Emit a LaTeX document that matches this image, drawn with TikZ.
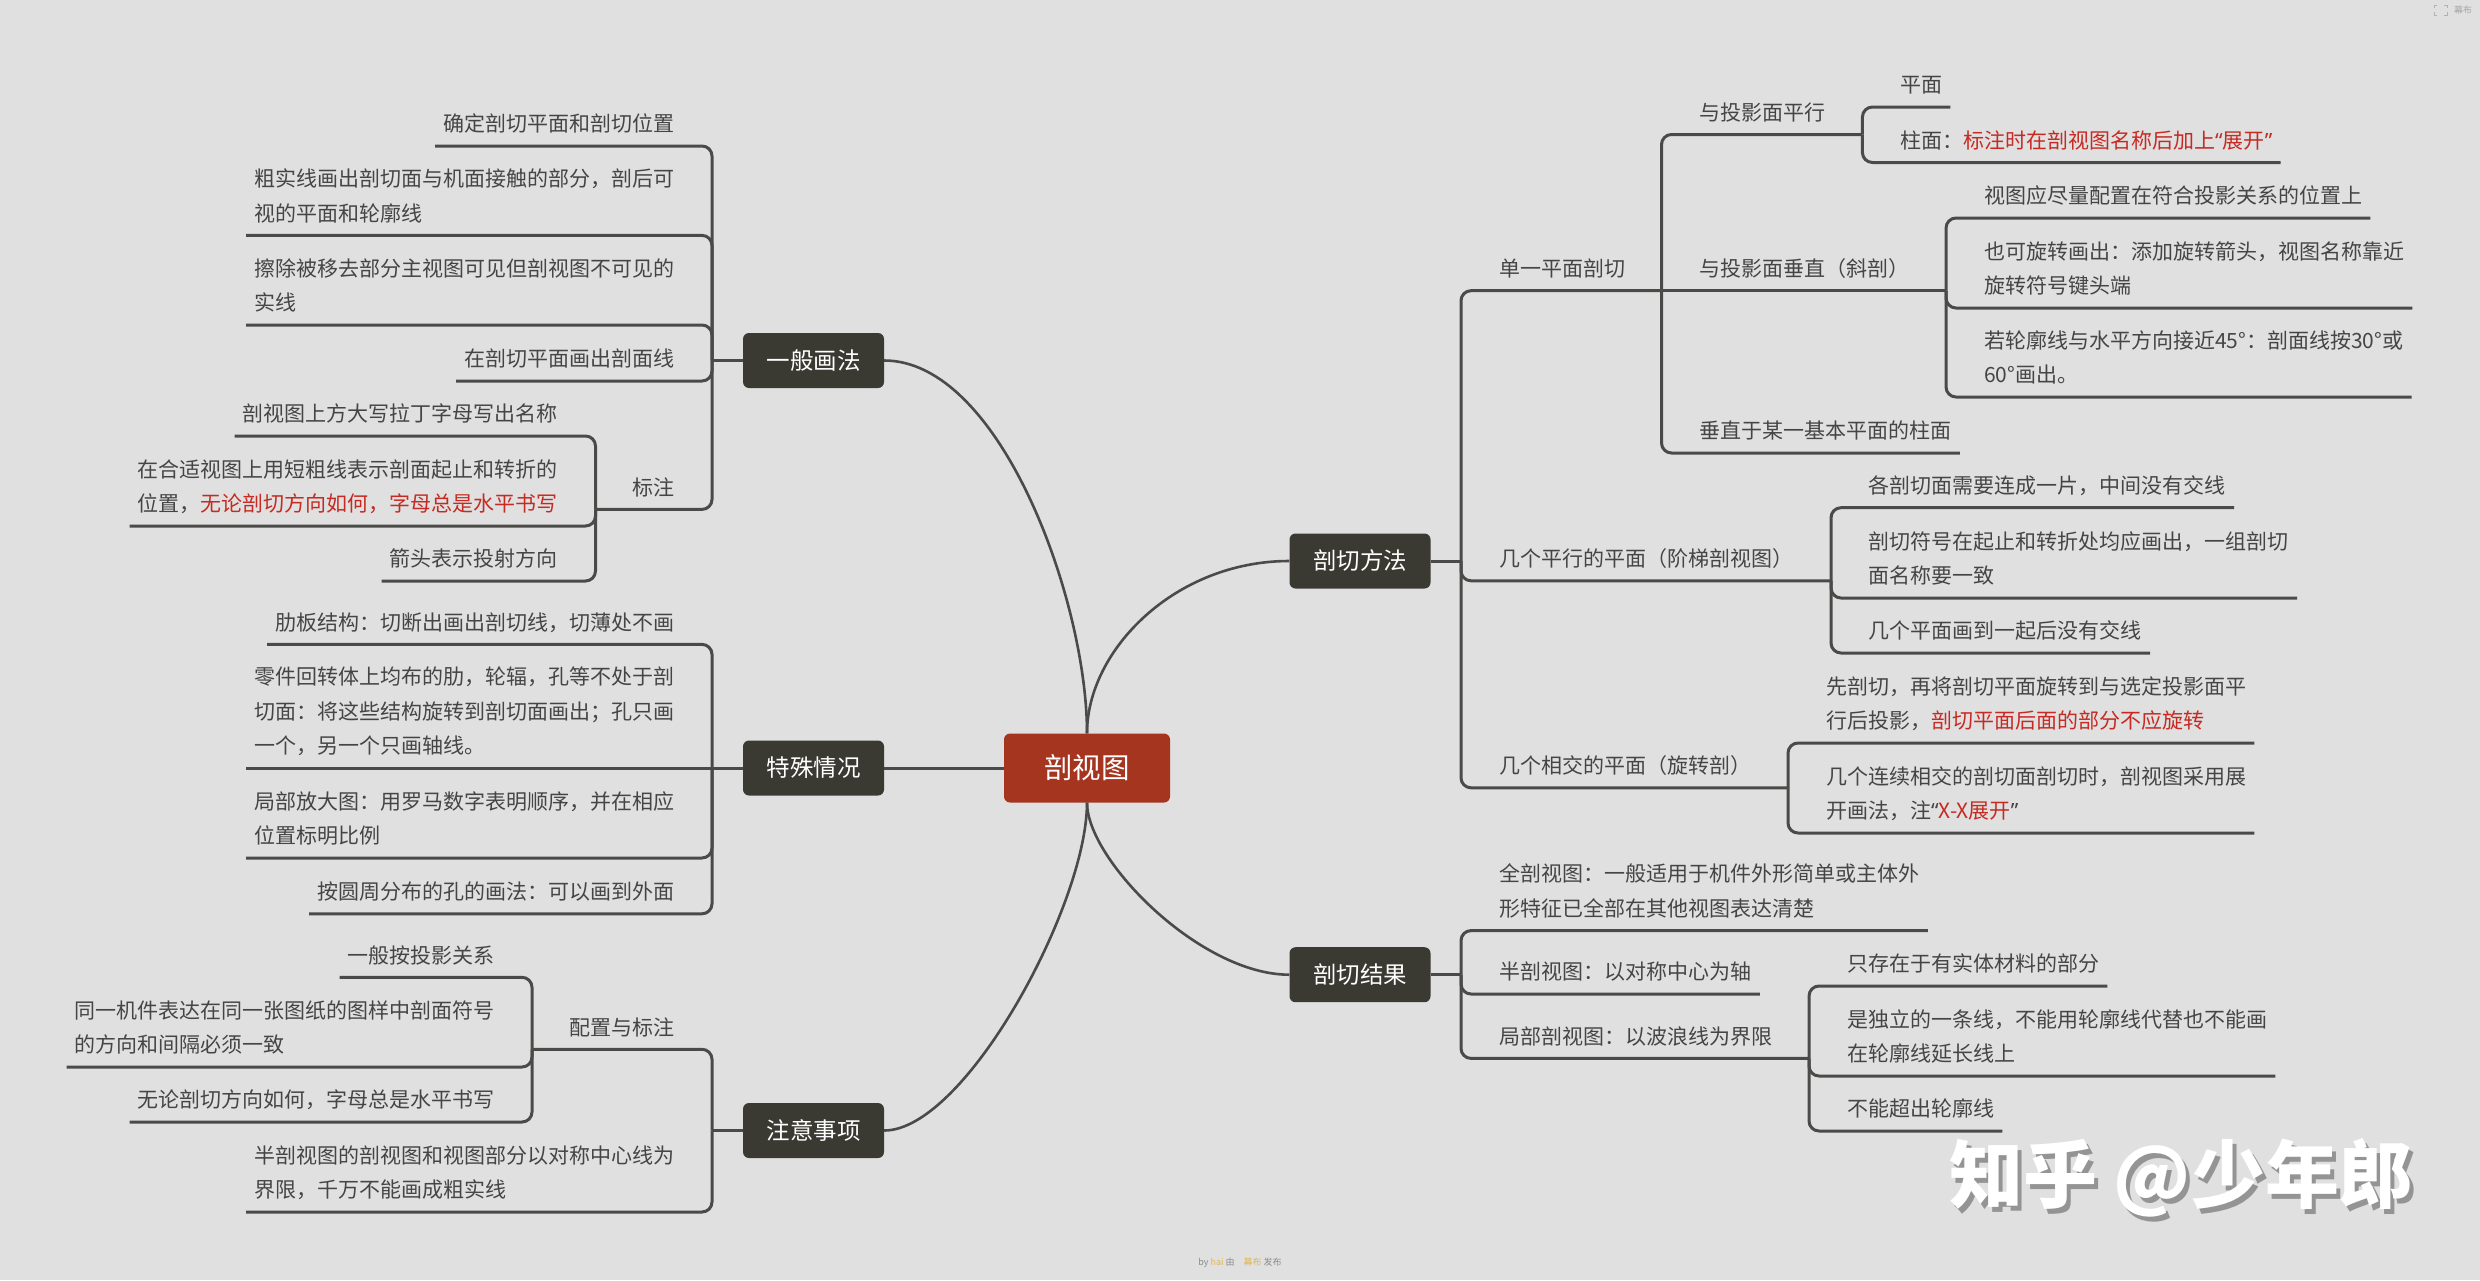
\documentclass[tikz,border=0pt]{standalone}
\usepackage{fontspec}
\usepackage{xcolor}
\setmainfont{Noto Sans CJK SC}
\newfontfamily\quotefont{Noto Sans}
\definecolor{bgcol}{HTML}{E0E0E0}
\definecolor{inkcol}{HTML}{4A4A48}
\definecolor{textcol}{HTML}{454545}
\definecolor{boxcol}{HTML}{3A3A33}
\definecolor{rootcol}{HTML}{A5351F}
\definecolor{notered}{HTML}{C62A22}
\definecolor{markyellow}{HTML}{E2B64E}
\newcommand{\hl}[1]{\textcolor{notered}{#1}}
\newcommand{\lqm}{{\quotefont “}}
\newcommand{\rqm}{{\quotefont ”}}
\tikzset{
    topicR/.style={anchor=south west,text=textcol,align=left,inner xsep=8pt,inner ysep=3.6pt,
        font=\fontsize{21}{34.5}\selectfont,execute at end node=\strut},
    topicL/.style={topicR,anchor=south east},
    branchbox/.style={fill=boxcol,text=white,rounded corners=6pt,minimum width=141pt,minimum height=55pt,
        inner sep=0pt,font=\fontsize{23.5}{28}\selectfont},
    rootbox/.style={fill=rootcol,text=white,rounded corners=6pt,minimum width=166pt,minimum height=69pt,
        inner sep=0pt,font=\fontsize{28.5}{34}\selectfont},
    linkline/.style={draw=inkcol,line width=3pt,rounded corners=10pt},
    arcline/.style={draw=inkcol,line width=2.6pt}
}

\begin{document}
\begin{tikzpicture}[x=1pt,y=-1pt]
    \fill[bgcol] (0,0) rectangle (2480,1280);
    \useasboundingbox (0,0) rectangle (2480,1280);

    \node[rootbox] (root) at (1087,768) {剖视图};
    \node[branchbox] (fangfa) at (1360,561) {剖切方法};
    \node[branchbox] (jieguo) at (1360,974.7) {剖切结果};
    \node[branchbox] (huafa) at (813.5,360.5) {一般画法};
    \node[branchbox] (teshu) at (813.5,768) {特殊情况};
    \node[branchbox] (zhuyi) at (813.5,1130.5) {注意事项};

    \node[topicR] (danyi) at (1491.4,290.7) {单一平面剖切};
    \node[topicR] (pingxing) at (1691.5,134.5) {与投影面平行};
    \node[topicR] (pingmian) at (1892,107) {平面};
    \node[topicR] (zhumian) at (1892,162.5) {柱面：\hl{标注时在剖视图名称后加上\lqm 展开\rqm}};
    \node[topicR] (chuizhi) at (1691.5,290.7) {与投影面垂直（斜剖）};
    \node[topicR] (peizhi) at (1976,218) {视图应尽量配置在符合投影关系的位置上};
    \node[topicR] (xuanzhuan) at (1976,308) {也可旋转画出：添加旋转箭头，视图名称靠近\\旋转符号键头端};
    \node[topicR] (lunkuo) at (1976,397) {若轮廓线与水平方向接近45°：剖面线按30°或\\60°画出。};
    \node[topicR] (zhuimian) at (1691.5,453) {垂直于某一基本平面的柱面};
    \node[topicR] (jieti) at (1491.4,580.8) {几个平行的平面（阶梯剖视图）};
    \node[topicR] (lianpian) at (1860.7,507.7) {各剖切面需要连成一片，中间没有交线};
    \node[topicR] (fuhao) at (1860.7,598) {剖切符号在起止和转折处均应画出，一组剖切\\面名称要一致};
    \node[topicR] (huayiqi) at (1860.7,653) {几个平面画到一起后没有交线};
    \node[topicR] (xuanpou) at (1491.4,787.8) {几个相交的平面（旋转剖）};
    \node[topicR] (xianpou) at (1818,743) {先剖切，再将剖切平面旋转到与选定投影面平\\行后投影，\hl{剖切平面后面的部分不应旋转}};
    \node[topicR] (lianxu) at (1818,833) {几个连续相交的剖切面剖切时，剖视图采用展\\开画法，注\lqm\hl{X-X展开}\rqm};

    \node[topicR] (quanpou) at (1491.4,930.6) {全剖视图：一般适用于机件外形简单或主体外\\形特征已全部在其他视图表达清楚};
    \node[topicR] (banpou) at (1491.4,994) {半剖视图：以对称中心为轴};
    \node[topicR] (jubu) at (1491.4,1058.4) {局部剖视图：以波浪线为界限};
    \node[topicR] (cailiao) at (1839,986) {只存在于有实体材料的部分};
    \node[topicR] (duli) at (1839,1076) {是独立的一条线，不能用轮廓线代替也不能画\\在轮廓线延长线上};
    \node[topicR] (chaochu) at (1839,1131) {不能超出轮廓线};

    \node[topicL] (queding) at (682.6,146) {确定剖切平面和剖切位置};
    \node[topicL] (cushi) at (682.6,235.4) {粗实线画出剖切面与机面接触的部分，剖后可\\视的平面和轮廓线};
    \node[topicL] (cachu) at (682.6,325) {擦除被移去部分主视图可见但剖视图不可见的\\实线};
    \node[topicL] (poumian) at (682.6,381) {在剖切平面画出剖面线};
    \node[topicL] (biaozhu) at (682.6,509.4) {标注};
    \node[topicL] (mingcheng) at (566,436) {剖视图上方大写拉丁字母写出名称};
    \node[topicL] (duancu) at (566,526) {在合适视图上用短粗线表示剖面起止和转折的\\位置，\hl{无论剖切方向如何，字母总是水平书写}};
    \node[topicL] (jiantou) at (566,581) {箭头表示投射方向};

    \node[topicL] (leiban) at (682.6,644.4) {肋板结构：切断出画出剖切线，切薄处不画};
    \node[topicL] (lingjian) at (682.6,768) {零件回转体上均布的肋，轮辐，孔等不处于剖\\切面：将这些结构旋转到剖切面画出；孔只画\\一个，另一个只画轴线。};
    \node[topicL] (fangda) at (682.6,858) {局部放大图：用罗马数字表明顺序，并在相应\\位置标明比例};
    \node[topicL] (yuanzhou) at (682.6,913.8) {按圆周分布的孔的画法：可以画到外面};

    \node[topicL] (peibiao) at (682.6,1049.3) {配置与标注};
    \node[topicL] (touying) at (503,977.3) {一般按投影关系};
    \node[topicL] (tongyi) at (503,1067) {同一机件表达在同一张图纸的图样中剖面符号\\的方向和间隔必须一致};
    \node[topicL] (wulun) at (503,1122) {无论剖切方向如何，字母总是水平书写};
    \node[topicL] (duicheng) at (682.6,1212) {半剖视图的剖视图和视图部分以对称中心线为\\界限，千万不能画成粗实线};

    \coordinate (jFangfa) at (1461,561);
    \coordinate (jDanyi) at (1661.5,290.7);
    \coordinate (jPingxing) at (1862.4,134.5);
    \coordinate (jChuizhi) at (1946,290.7);
    \coordinate (jJieti) at (1831,580.8);
    \coordinate (jXuanpou) at (1788,787.8);
    \coordinate (jJieguo) at (1461,974.7);
    \coordinate (jJubu) at (1809,1058.4);
    \coordinate (jHuafa) at (712,360.5);
    \coordinate (jBiaozhu) at (595.5,509.4);
    \coordinate (jTeshu) at (712,768);
    \coordinate (jZhuyi) at (712,1130.5);
    \coordinate (jPeibiao) at (532,1049.3);

    \draw[arcline] (fangfa.west) .. controls (1175,561) and (1087,650) .. (root.north);
    \draw[arcline] (jieguo.west) .. controls (1200,974.7) and (1087,860) .. (root.south);
    \draw[arcline] (huafa.east) .. controls (1000,360.5) and (1087,600) .. (root.north);
    \draw[arcline] (zhuyi.east) .. controls (965,1130.5) and (1087,905) .. (root.south);
    \draw[linkline] (teshu.east) -- (root.west);

    \draw[linkline] (fangfa.east) -- (jFangfa);
    \draw[linkline] (jFangfa) |- (jDanyi);
    \draw[linkline] (jFangfa) |- (jJieti);
    \draw[linkline] (jFangfa) |- (jXuanpou);
    \draw[linkline] (jDanyi) -- (jChuizhi);
    \draw[linkline] (jDanyi) |- (jPingxing);
    \draw[linkline] (jDanyi) |- (zhuimian.south east);
    \draw[linkline] (jPingxing) |- (pingmian.south east);
    \draw[linkline] (jPingxing) |- (zhumian.south east);
    \draw[linkline] (jChuizhi) |- (peizhi.south east);
    \draw[linkline] (jChuizhi) |- (xuanzhuan.south east);
    \draw[linkline] (jChuizhi) |- (lunkuo.south east);
    \draw[linkline] (jJieti) |- (lianpian.south east);
    \draw[linkline] (jJieti) |- (fuhao.south east);
    \draw[linkline] (jJieti) |- (huayiqi.south east);
    \draw[linkline] (jXuanpou) |- (xianpou.south east);
    \draw[linkline] (jXuanpou) |- (lianxu.south east);

    \draw[linkline] (jieguo.east) -- (jJieguo);
    \draw[linkline] (jJieguo) |- (quanpou.south east);
    \draw[linkline] (jJieguo) |- (banpou.south east);
    \draw[linkline] (jJieguo) |- (jJubu);
    \draw[linkline] (jJubu) |- (cailiao.south east);
    \draw[linkline] (jJubu) |- (duli.south east);
    \draw[linkline] (jJubu) |- (chaochu.south east);

    \draw[linkline] (huafa.west) -- (jHuafa);
    \draw[linkline] (jHuafa) |- (queding.south west);
    \draw[linkline] (jHuafa) |- (cushi.south west);
    \draw[linkline] (jHuafa) |- (cachu.south west);
    \draw[linkline] (jHuafa) |- (poumian.south west);
    \draw[linkline] (jHuafa) |- (jBiaozhu);
    \draw[linkline] (jBiaozhu) |- (mingcheng.south west);
    \draw[linkline] (jBiaozhu) |- (duancu.south west);
    \draw[linkline] (jBiaozhu) |- (jiantou.south west);

    \draw[linkline] (teshu.west) -- (lingjian.south west);
    \draw[linkline] (jTeshu) |- (leiban.south west);
    \draw[linkline] (jTeshu) |- (fangda.south west);
    \draw[linkline] (jTeshu) |- (yuanzhou.south west);

    \draw[linkline] (zhuyi.west) -- (jZhuyi);
    \draw[linkline] (jZhuyi) |- (jPeibiao);
    \draw[linkline] (jZhuyi) |- (duicheng.south west);
    \draw[linkline] (jPeibiao) |- (touying.south west);
    \draw[linkline] (jPeibiao) |- (tongyi.south west);
    \draw[linkline] (jPeibiao) |- (wulun.south west);

    \node[text=black!42,font=\fontsize{74}{80}\selectfont\bfseries] (markshadow) at (2185,1183) {知乎 @少年郎};
    \node[text=white,font=\fontsize{74}{80}\selectfont\bfseries] (mark) at (2181,1178) {知乎 @少年郎};

    \node[text=black!45,font=\fontsize{9}{11}\selectfont] (byline) at (1240,1263) {by \textcolor{markyellow}{hai} 由\hspace{9pt}\textcolor{markyellow}{幕布} 发布};
    \node[text=black!35,font=\fontsize{9}{11}\selectfont] (topmark) at (2463,10) {幕布};
    \draw[black!30,line width=1pt] (2434,8) |- (2437,5) (2444,5) -| (2447,8) (2447,12) |- (2444,15) (2437,15) -| (2434,12);
\end{tikzpicture}
\end{document}
